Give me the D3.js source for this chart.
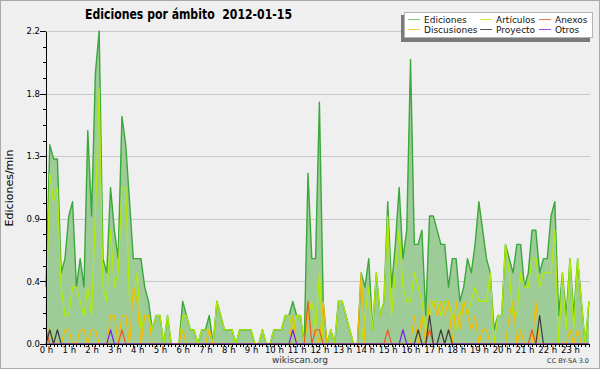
<!DOCTYPE html>
<html>
<head>
<meta charset="utf-8">
<script src="https://d3js.org/d3.v7.min.js"></script>
<style>
  html, body { margin: 0; padding: 0; background: #ffffff; }
  svg { display: block; font-family: 'DejaVu Sans', sans-serif; }
  .axis path, .axis line { stroke: #000; shape-rendering: crispEdges; }
  .grid line { stroke: #c8c8c8; shape-rendering: crispEdges; }
  .grid path { display: none; }
</style>
</head>
<body>
<div id="vis"></div>
<script>
// 10-minute buckets, edits per minute
var ediciones = [
  0.4,1.4,1.3,1.3,0.5,0.6,0.9,1.0,0.4,0.6,0.4,1.5,
  0.9,1.9,2.2,0.6,0.5,1.1,0.8,0.6,1.6,1.4,1.0,0.6,
  0.6,0.6,0.4,0.3,0.1,0.2,0.2,0,0.2,0,0,0,
  0.3,0.2,0.1,0.1,0,0.1,0.1,0.2,0,0.3,0.2,0.1,
  0.1,0.1,0,0.1,0.1,0.1,0.1,0,0,0.1,0,0,
  0.1,0.1,0.1,0.2,0.2,0.3,0.2,0.2,0,1.2,0.6,0.6,
  1.7,0.3,0,0.1,0,0.3,0.3,0.2,0.1,0,0,0.5,
  0.4,0.6,0.1,0.5,0.2,0.3,1.0,0.4,0.7,1.1,0.6,0.8,
  2.0,0.7,0.7,0.8,0.2,0.9,0.9,0.8,0.7,0.7,0.4,0.6,
  0.6,0.3,0.4,0.6,0.5,0.7,1.0,0.8,0.6,0.5,0.1,0.2,
  0.2,0.7,0.6,0.5,0.7,0.7,0.4,0.5,0.8,0.8,0.5,0.6,
  0.6,0.9,1.0,0.2,0.5,0.2,0.6,0.2,0.6,0.3,0,0.3
];
var articulos = [
  0.2,1.2,1.0,1.1,0.4,0.2,0.2,0.4,0.4,0.3,0.2,0.4,
  0.2,0.9,1.8,0.4,0.3,0.8,0.4,0.5,1.1,1.1,0.3,0.3,
  0.5,0.1,0.2,0.2,0.1,0.2,0.2,0,0.2,0,0,0,
  0.2,0.2,0.1,0.1,0,0.1,0.1,0.1,0,0.3,0.2,0.1,
  0.1,0.1,0,0.1,0.1,0.1,0.1,0,0,0.1,0,0,
  0.1,0.1,0.1,0.2,0.2,0.1,0.2,0.2,0,0.2,0.3,0.1,
  0.5,0,0,0.1,0,0.3,0.3,0.2,0.1,0,0,0,
  0.2,0.4,0.1,0.5,0.2,0.3,0.9,0.2,0.5,0.8,0.4,0.3,
  0.3,0.5,0.4,0.3,0.1,0.2,0.3,0.3,0.2,0.3,0.3,0.2,
  0.1,0.2,0.3,0.2,0.3,0.4,0.3,0.3,0.3,0.5,0,0.2,
  0.2,0.7,0.5,0.2,0.2,0.5,0.4,0.4,0.6,0.6,0.4,0.5,
  0.5,0.5,0.8,0,0.5,0.1,0.6,0.1,0.6,0.3,0,0.3
];
var discusiones = [
  0.1,0.1,0,0,0,0.1,0.1,0,0,0.1,0.1,0,
  0.1,0.1,0,0,0,0.2,0.2,0,0.2,0.2,0,0.4,
  0.3,0,0.2,0.2,0,0,0,0,0,0,0,0,
  0.1,0,0,0,0,0,0,0.1,0,0,0,0,
  0,0,0,0,0,0,0,0,0,0,0,0,
  0,0,0,0,0,0.2,0,0,0,0.2,0.1,0.1,
  0,0.3,0,0,0,0,0,0,0,0,0,0.5,
  0,0,0,0,0,0,0,0,0,0,0,0,
  0,0.2,0,0.2,0,0.3,0.3,0.2,0.3,0.2,0.3,0,
  0.3,0.1,0.3,0.2,0.1,0.2,0,0.1,0.1,0,0,0,
  0,0,0.2,0.3,0,0.1,0,0,0,0.3,0,0,
  0,0,0,0,0,0,0.1,0,0.1,0,0,0
];
var anexos = [
  0.1,0,0,0,0,0,0,0,0,0,0,0,
  0,0,0,0,0,0,0,0,0.1,0,0,0,
  0,0,0,0,0,0,0,0,0,0,0,0,
  0,0,0,0,0,0,0,0,0,0,0,0,
  0,0,0,0,0,0,0,0,0,0,0,0,
  0,0,0,0,0,0,0,0,0,0.3,0,0.1,
  0.1,0,0,0,0,0,0,0,0,0,0,0,
  0,0,0,0,0,0,0.1,0,0,0,0,0,
  0,0,0,0,0,0.1,0,0,0,0,0,0,
  0,0,0,0,0,0,0,0,0,0,0,0,
  0,0,0,0,0,0,0,0,0.1,0,0,0,
  0,0,0,0,0,0,0,0,0,0,0,0
];
var proyecto = [
  0,0.1,0,0.1,0,0,0,0,0,0,0,0,
  0,0,0,0,0,0,0,0,0,0,0,0,
  0,0,0,0,0,0,0,0,0,0,0,0,
  0,0,0,0,0,0,0,0,0,0,0,0,
  0,0,0,0,0,0,0,0,0,0,0,0,
  0,0,0,0,0,0,0,0,0,0,0,0,
  0,0,0,0,0,0,0,0,0,0,0,0,
  0,0,0,0,0,0,0,0,0,0,0,0,
  0,0,0.1,0,0,0.2,0,0,0.1,0,0.1,0,
  0,0,0,0,0,0,0,0,0,0,0,0,
  0,0,0,0,0,0,0,0,0,0,0.2,0,
  0,0,0,0,0,0,0,0,0,0,0,0
];
var otros = [
  0,0,0,0,0,0,0,0,0,0,0,0,
  0,0,0,0,0,0.1,0,0,0,0,0,0,
  0,0,0,0,0,0,0,0,0,0,0,0,
  0,0,0,0,0,0,0,0,0,0,0,0,
  0,0,0,0,0,0,0,0,0,0,0,0,
  0,0,0,0,0,0.1,0,0,0,0,0,0,
  0,0,0,0,0,0,0,0,0,0,0,0,
  0,0,0,0,0,0,0,0,0,0,0.1,0,
  0,0,0,0,0,0,0,0,0,0,0,0,
  0,0,0,0,0,0,0,0,0,0,0,0,
  0,0,0,0,0,0,0,0,0,0,0,0,
  0,0,0,0,0,0,0,0,0,0,0,0
];

var hourLabels = ['0 h','1 h','2 h','3 h','4 h','5 h','6 h','7 h','8 h','9 h','10 h','11 h',
                  '12 h','13 h','14 h','15 h','16 h','17 h','18 h','19 h','20 h','21 h','22 h','23 h'];
var yTicks = [0, 0.44, 0.88, 1.32, 1.76, 2.2];
var yTickLabels = ['0.0', '0.4', '0.9', '1.3', '1.8', '2.2'];

var series = [
  { name: 'Ediciones',   values: ediciones,   color: '#3aa83a', legend: '#7fcf7f', col: 0, row: 0 },
  { name: 'Artículos',   values: articulos,   color: '#b2ec00', legend: '#c8ee3c', col: 1, row: 0 },
  { name: 'Anexos',      values: anexos,      color: '#f05a1e', legend: '#f07a4a', col: 2, row: 0 },
  { name: 'Discusiones', values: discusiones, color: '#f6bc00', legend: '#f8d040', col: 0, row: 1 },
  { name: 'Proyecto',    values: proyecto,    color: '#3c3c3c', legend: '#555555', col: 1, row: 1 },
  { name: 'Otros',       values: otros,       color: '#7a22e8', legend: '#9a50ee', col: 2, row: 1 }
];

var width = 600, height = 370;
var margin = { top: 31, bottom: 26, left: 46, right: 11 };

var svg = d3.select('#vis')
    .append('svg')
    .attr('width', width)
    .attr('height', height);

svg.append('rect')
    .attr('x', 0.5).attr('y', 0.5)
    .attr('width', width - 1).attr('height', height - 2)
    .attr('fill', '#efeff0')
    .attr('stroke', '#a9a9a9');

var x = d3.scaleLinear()
    .domain([0, 143])
    .range([margin.left, width - margin.right]);

var y = d3.scaleLinear()
    .domain([0, 2.2])
    .range([height - margin.bottom, margin.top]);

// grid
svg.append('g')
    .attr('class', 'grid')
    .attr('transform', 'translate(' + margin.left + ',0)')
    .call(d3.axisLeft(y).tickValues(yTicks).tickSize(-(x(143) - margin.left + 1)).tickFormat(''));

// area of all edits
var area = d3.area()
    .x(function(d, i) { return x(i); })
    .y0(y(0))
    .y1(function(d) { return y(d); });

svg.append('path')
    .datum(ediciones)
    .attr('d', area)
    .attr('fill', '#9dcc98');

var line = d3.line()
    .x(function(d, i) { return x(i); })
    .y(function(d) { return y(d); });

var drawOrder = ['Ediciones', 'Artículos', 'Discusiones', 'Anexos', 'Proyecto', 'Otros'];
drawOrder.forEach(function(n) {
    var s = series.find(function(d) { return d.name == n; });
    svg.append('path')
        .datum(s.values)
        .attr('d', line)
        .attr('fill', 'none')
        .attr('stroke', s.color)
        .attr('stroke-width', n == 'Ediciones' ? 1.4 : 1.2)
        .attr('stroke-linejoin', 'round');
});

// x axis, one tick per 10 minutes
var xAxis = d3.axisBottom(x)
    .tickValues(d3.range(0, 144))
    .tickSize(3)
    .tickSizeOuter(0)
    .tickPadding(0)
    .tickFormat(function(d) { return d % 6 == 0 ? hourLabels[d / 6] : ''; });

var gx = svg.append('g')
    .attr('class', 'axis')
    .attr('transform', 'translate(0,' + y(0) + ')')
    .call(xAxis);
gx.select('.domain').attr('d', 'M' + margin.left + ',0.5H' + (x(143) + 1));
gx.selectAll('text')
    .attr('font-size', '8.5px')
    .attr('font-family', 'DejaVu Sans, sans-serif')
    .attr('fill', '#000');

// y axis: minor ticks then majors with labels
var minorTicks = d3.range(0, 21).map(function(k) { return k * 0.11; });
svg.append('g')
    .attr('class', 'axis')
    .attr('transform', 'translate(' + margin.left + ',0)')
    .call(d3.axisLeft(y).tickValues(minorTicks).tickSize(3).tickSizeOuter(0).tickFormat(''));

var gy = svg.append('g')
    .attr('class', 'axis')
    .attr('transform', 'translate(' + margin.left + ',0)')
    .call(d3.axisLeft(y).tickValues(yTicks).tickSize(6).tickSizeOuter(0).tickPadding(0)
        .tickFormat(function(d, i) { return yTickLabels[i]; }));
gy.selectAll('text')
    .attr('font-size', '8.5px')
    .attr('font-family', 'DejaVu Sans, sans-serif')
    .attr('fill', '#000');

// title
svg.append('text')
    .attr('x', 85).attr('y', 19)
    .attr('font-size', '14px')
    .attr('font-weight', 'bold')
    .attr('textLength', 207)
    .attr('lengthAdjust', 'spacingAndGlyphs')
    .style('white-space', 'pre')
    .text('Ediciones por ámbito  2012-01-15');

// y label
svg.append('text')
    .attr('transform', 'translate(13,188) rotate(-90)')
    .attr('text-anchor', 'middle')
    .attr('font-size', '11px')
    .text('Ediciones/min');

// footer
svg.append('text')
    .attr('x', 300).attr('y', 363)
    .attr('text-anchor', 'middle')
    .attr('font-size', '9px')
    .attr('fill', '#333')
    .text('wikiscan.org');

svg.append('text')
    .attr('x', 589).attr('y', 363)
    .attr('text-anchor', 'end')
    .attr('font-size', '6.5px')
    .attr('fill', '#333')
    .text('CC BY-SA 3.0');

// legend
var legend = svg.append('g');
legend.append('rect')
    .attr('x', 401).attr('y', 15)
    .attr('width', 189).attr('height', 27)
    .attr('fill', '#7a7a7a');
legend.append('rect')
    .attr('x', 404.5).attr('y', 12.5)
    .attr('width', 188).attr('height', 25)
    .attr('fill', '#ffffff')
    .attr('stroke', '#b4b4b4');

var colX = [408, 480, 539];
var rowY = [19, 29];
series.forEach(function(s) {
    legend.append('line')
        .attr('x1', colX[s.col]).attr('x2', colX[s.col] + 12)
        .attr('y1', rowY[s.row] + 0.5).attr('y2', rowY[s.row] + 0.5)
        .attr('stroke', s.legend)
        .attr('stroke-width', 1);
    legend.append('text')
        .attr('x', colX[s.col] + 16)
        .attr('y', rowY[s.row] + 3.5)
        .attr('font-size', '9px')
        .attr('fill', '#111')
        .text(s.name);
});
</script>
</body>
</html>
